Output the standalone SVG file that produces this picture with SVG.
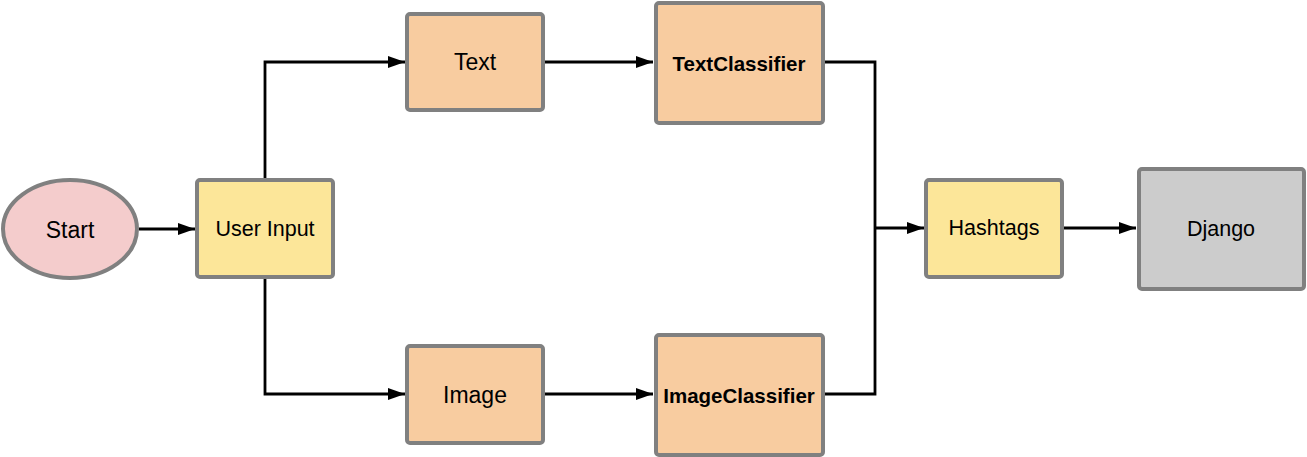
<svg xmlns="http://www.w3.org/2000/svg" width="1307" height="457" viewBox="0 0 1307 457">
<style>
.n{stroke:#808080;stroke-width:4}
.y{fill:#fce699}
.o{fill:#f8cca0}
.t{font-family:"Liberation Sans",Arial,sans-serif;fill:#000;text-anchor:middle;dominant-baseline:central}
.b{font-size:23px}
.m{font-size:21.5px}
.k{font-size:20.5px;font-weight:bold}
.c{fill:none;stroke:#000;stroke-width:2.8}
</style>
<defs>
<marker id="a" viewBox="0 0 17 12" refX="17" refY="6" markerWidth="17" markerHeight="12" markerUnits="userSpaceOnUse" orient="auto">
<path d="M0,0 L17,6 L0,12 Z" fill="#000"/>
</marker>
</defs>
<rect width="1307" height="457" fill="#fff"/>
<g id="connectors">
<path class="c" d="M139,229 H195" marker-end="url(#a)"/>
<path class="c" d="M265,179 V62 H405" marker-end="url(#a)"/>
<path class="c" d="M265,279 V394 H405" marker-end="url(#a)"/>
<path class="c" d="M545,62 H653" marker-end="url(#a)"/>
<path class="c" d="M545,394 H653" marker-end="url(#a)"/>
<path class="c" d="M825,62 H875 V394 H825"/>
<path class="c" d="M875,228 H924" marker-end="url(#a)"/>
<path class="c" d="M1064,228 H1136" marker-end="url(#a)"/>
</g>
<g id="start">
<ellipse class="n" cx="70" cy="229" rx="67" ry="49" fill="#f4cccc"/>
<text class="t b" x="70" y="230">Start</text>
</g>
<g id="userinput">
<rect class="n y" x="197" y="180" width="136" height="97" rx="3"/>
<text class="t m" x="265" y="229">User Input</text>
</g>
<g id="text">
<rect class="n o" x="407" y="14" width="136" height="96" rx="3"/>
<text class="t b" x="475" y="62">Text</text>
</g>
<g id="image">
<rect class="n o" x="407" y="346" width="136" height="97" rx="3"/>
<text class="t b" x="475" y="395">Image</text>
</g>
<g id="textclassifier">
<rect class="n o" x="656" y="3" width="167" height="120" rx="3"/>
<text class="t k" x="739" y="63">TextClassifier</text>
</g>
<g id="imageclassifier">
<rect class="n o" x="656" y="335" width="167" height="120" rx="3"/>
<text class="t k" x="739" y="395">ImageClassifier</text>
</g>
<g id="hashtags">
<rect class="n y" x="926" y="180" width="136" height="97" rx="3"/>
<text class="t m" x="994" y="228">Hashtags</text>
</g>
<g id="django">
<rect class="n" x="1139" y="169" width="165" height="120" rx="3" fill="#cccccc"/>
<text class="t m" x="1221" y="229">Django</text>
</g>
</svg>
